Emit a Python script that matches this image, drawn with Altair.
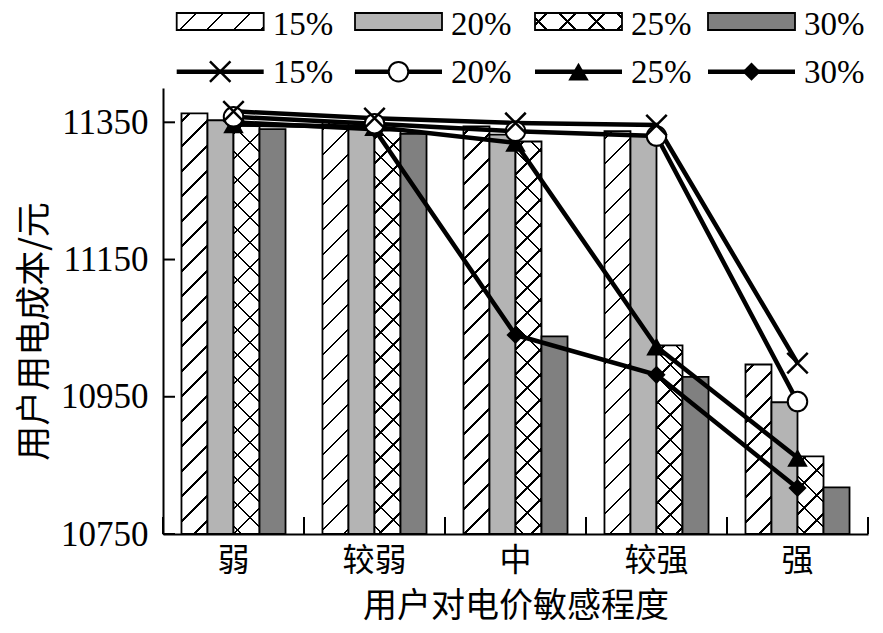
import altair as alt
import pandas as pd

# ---------------- data ----------------
CATEGORIES = ["弱", "较弱", "中", "较强", "强"]
SERIES = ["15%", "20%", "25%", "30%"]
BAR_15 = [11363, 11350, 11344, 11337, 10997]
BAR_20 = [11353, 11342, 11332, 11330, 10942]
BAR_25 = [11345, 11338, 11322, 11025, 10863]
BAR_30 = [11340, 11333, 11038, 10979, 10818]
LINE_15 = [11366, 11356, 11349, 11346, 10999]
LINE_20 = [11358, 11348, 11337, 11330, 10943]
LINE_25 = [11347, 11343, 11320, 11023, 10861]
LINE_30 = [11350, 11340, 11040, 10982, 10817]
Y_TICKS = [10750, 10950, 11150, 11350]
Y_DOMAIN = [10750, 11400]
X_TITLE = "用户对电价敏感程度"
Y_TITLE = "用户用电成本/元"

# ---------------- layout / style ----------------
W, H = 705, 446
PAD = {"left": 155, "top": 80, "right": 5, "bottom": 93}
KY = H / (Y_DOMAIN[1] - Y_DOMAIN[0])
BAND = W / len(CATEGORIES)
OFF_PAD = 0.71
BAR_W = BAND / (len(SERIES) + 2 * OFF_PAD)
LIGHT = "#b4b4b4"
DARK = "#808080"
NUM_FONT = "Liberation Serif"
CJK_FONT = "Noto Sans CJK SC"
CLEAR = "rgba(255,255,255,0)"


def hatch(wpx, hpx, direction, bg, spacing=25.0, lw=2.4, phase=8.0):
    """Linear gradient that draws 45-degree hatch lines inside a wpx x hpx box."""
    tot = wpx + hpx
    k = tot / (wpx ** 2 + hpx ** 2)
    if direction == "/":
        x1, y1, x2, y2 = 0, 0, k * wpx, k * hpx
    else:
        x1, y1, x2, y2 = 0, 1, k * wpx, 1 - k * hpx
    stops = [{"offset": 0, "color": bg}]
    c = phase
    while c - lw / 2 < tot:
        a = max(0.0, (c - lw / 2) / tot)
        b = min(1.0, (c + lw / 2) / tot)
        if b > 0 and a < 1:
            stops += [
                {"offset": a, "color": bg},
                {"offset": a, "color": "black"},
                {"offset": b, "color": "black"},
                {"offset": b, "color": bg},
            ]
        c += spacing
    stops.append({"offset": 1, "color": bg})
    return {"gradient": "linear", "x1": x1, "y1": y1, "x2": x2, "y2": y2, "stops": stops}


bar_values = dict(zip(SERIES, [BAR_15, BAR_20, BAR_25, BAR_30]))
line_values = dict(zip(SERIES, [LINE_15, LINE_20, LINE_25, LINE_30]))
bars_df = pd.DataFrame(
    [{"category": c, "series": s, "value": v}
     for s in SERIES for c, v in zip(CATEGORIES, bar_values[s])]
)
lines_df = pd.DataFrame(
    [{"category": c, "series": s, "value": v}
     for s in SERIES for c, v in zip(CATEGORIES, line_values[s])]
)
yticks_df = pd.DataFrame({"value": Y_TICKS})
cats_df = pd.DataFrame({"category": CATEGORIES})

X_SCALE = alt.Scale(domain=CATEGORIES, paddingInner=0, paddingOuter=0)
Y_SCALE = alt.Scale(domain=Y_DOMAIN, nice=False, zero=False)
X_AXIS = alt.Axis(
    title=X_TITLE, labelAngle=0, labelFont=CJK_FONT, labelFontSize=32,
    labelColor="black", labelPadding=11, ticks=False, tickSize=0,
    domainColor="black", domainWidth=2, grid=False, titleFont=CJK_FONT,
    titleFontSize=34, titleFontWeight="normal", titleColor="black", titlePadding=13,
)
Y_AXIS = alt.Axis(
    title=Y_TITLE, values=Y_TICKS, format="d", labelFont=NUM_FONT, labelFontSize=35,
    labelColor="black", labelPadding=15, ticks=False, tickSize=0,
    domainColor="black", domainWidth=2, grid=False, titleFont=CJK_FONT,
    titleFontSize=35, titleFontWeight="normal", titleColor="black",
    titlePadding=8, titleY=243,
)


def xenc(band_pos=None):
    kw = {}
    if band_pos is not None:
        kw["bandPosition"] = band_pos
    return alt.X("category:N", scale=X_SCALE, axis=X_AXIS, **kw)


Y_ENC = alt.Y("value:Q", scale=Y_SCALE, axis=Y_AXIS)
XOFF = alt.XOffset("series:N", scale=alt.Scale(domain=SERIES, paddingOuter=OFF_PAD, paddingInner=0))


def bar_layer(ser, cat=None, **mark):
    pred = alt.datum.series == ser
    if cat is not None:
        pred = pred & (alt.datum.category == cat)
    return alt.Chart(bars_df).transform_filter(pred).mark_bar(**mark).encode(
        x=xenc(), xOffset=XOFF, y=Y_ENC, y2=alt.datum(Y_DOMAIN[0])
    )


layers = []
# 15% hatched
for c, v in zip(CATEGORIES, BAR_15):
    hp = (v - Y_DOMAIN[0]) * KY
    layers.append(bar_layer("15%", c, fill=hatch(BAR_W, hp, "/", "white"),
                            stroke="black", strokeWidth=1.8))
# 20% light gray
layers.append(bar_layer("20%", fill=LIGHT, stroke="black", strokeWidth=1.8))
# 25% cross-hatched
for c, v in zip(CATEGORIES, BAR_25):
    hp = (v - Y_DOMAIN[0]) * KY
    layers.append(bar_layer("25%", c, fill=hatch(BAR_W, hp, "/", "white")))
    layers.append(bar_layer("25%", c, fill=hatch(BAR_W, hp, "\\", CLEAR),
                            stroke="black", strokeWidth=1.8))
# 30% dark gray
layers.append(bar_layer("30%", fill=DARK, stroke="black", strokeWidth=1.8))

# inward ticks
layers.append(alt.Chart(yticks_df).mark_rule(color="black", strokeWidth=2).encode(
    y=Y_ENC, x=alt.value(0), x2=alt.value(12)))
layers.append(alt.Chart(cats_df).mark_rule(color="black", strokeWidth=2).encode(
    x=xenc(0), y=alt.value(H - 17), y2=alt.value(H)))
layers.append(alt.Chart(cats_df).transform_filter(alt.datum.category == CATEGORIES[-1])
              .mark_rule(color="black", strokeWidth=2).encode(
    x=xenc(1), y=alt.value(H - 17), y2=alt.value(H)))

# lines
layers.append(alt.Chart(lines_df).mark_line(color="black", strokeWidth=4.5).encode(
    x=xenc(), y=Y_ENC, detail="series:N"))

X_SHAPE = "M-1,-1L1,1M1,-1L-1,1"
MARKERS = {
    "15%": dict(shape=X_SHAPE, filled=False, stroke="black", strokeWidth=2.5, size=420, opacity=1),
    "20%": dict(shape="circle", filled=True, fill="white", stroke="black", strokeWidth=2, size=380, opacity=1),
    "25%": dict(shape="triangle-up", filled=True, color="black", size=420, opacity=1),
    "30%": dict(shape="diamond", filled=True, color="black", size=330, opacity=1),
}
for s in ["30%", "25%", "20%", "15%"]:
    layers.append(alt.Chart(lines_df).transform_filter(alt.datum.series == s)
                  .mark_point(**MARKERS[s]).encode(x=xenc(), y=Y_ENC))

# ---------------- legend ----------------
ONE = alt.Data(values=[{}])
LEG_X = [13.7, 192, 372, 545]
SW_W, SW_H = 87, 17
SW_Y = -75
TXT_DX = 96
LEG_FONT = 33
ROW1_BASE = -53.5
ROW2_Y = -16.3
ROW2_BASE = -5
LEG_FILLS = {
    "15%": [hatch(SW_W, SW_H, "/", "white", spacing=27, phase=20)],
    "20%": [LIGHT],
    "25%": [hatch(SW_W, SW_H, "/", "white", spacing=29, phase=12),
            hatch(SW_W, SW_H, "\\", CLEAR, spacing=29, phase=12)],
    "30%": [DARK],
}
for i, s in enumerate(SERIES):
    x0 = LEG_X[i]
    fills = LEG_FILLS[s]
    for j, f in enumerate(fills):
        kw = {"fill": f}
        if j == len(fills) - 1:
            kw.update(stroke="black", strokeWidth=1.8)
        layers.append(alt.Chart(ONE).mark_rect(**kw).encode(
            x=alt.value(x0), x2=alt.value(x0 + SW_W),
            y=alt.value(SW_Y), y2=alt.value(SW_Y + SW_H)))
    for base in (ROW1_BASE, ROW2_BASE):
        layers.append(alt.Chart(ONE).mark_text(
            text=s, font=NUM_FONT, fontSize=LEG_FONT, align="left", baseline="alphabetic",
            color="black").encode(x=alt.value(x0 + TXT_DX), y=alt.value(base)))
    layers.append(alt.Chart(ONE).mark_rule(color="black", strokeWidth=4.5).encode(
        x=alt.value(x0), x2=alt.value(x0 + SW_W), y=alt.value(ROW2_Y)))
    layers.append(alt.Chart(ONE).mark_point(**MARKERS[s]).encode(
        x=alt.value(x0 + SW_W / 2), y=alt.value(ROW2_Y)))

chart = alt.layer(*layers).properties(
    width=W, height=H,
    autosize=alt.AutoSizeParams(type="none"),
    padding=PAD,
    background="white",
).configure_view(stroke=None)

chart.save("out.html", embed_options={"renderer": "svg", "actions": False})
